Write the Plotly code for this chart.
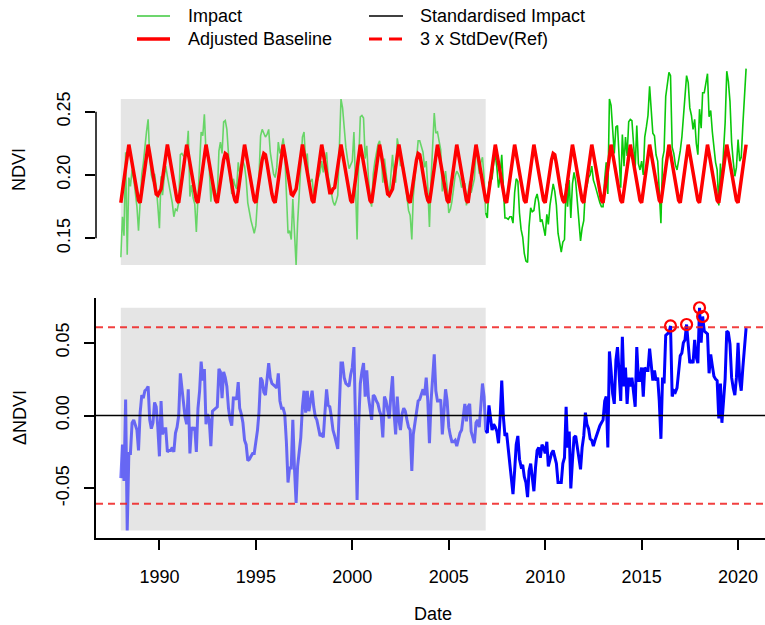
import pandas as pd
import numpy as np
import plotly.graph_objects as go

# ---------------- data ----------------
first_month = "1988-01-01"
last_month = "2020-06-01"
ref_period_end = "2007-01-01"          # start of monitoring period

# Adjusted (harmonic) baseline NDVI, one value per month, Jan..Dec
baseline_ndvi = [
    0.178, 0.187, 0.197, 0.207, 0.216, 0.224, 0.217, 0.209, 0.200, 0.192, 0.185, 0.180,  # 1988
    0.178, 0.187, 0.197, 0.207, 0.216, 0.224, 0.217, 0.209, 0.200, 0.192, 0.185, 0.184,  # 1989
    0.186, 0.189, 0.197, 0.207, 0.216, 0.224, 0.217, 0.209, 0.200, 0.192, 0.185, 0.180,  # 1990
    0.178, 0.187, 0.197, 0.207, 0.216, 0.224, 0.217, 0.209, 0.200, 0.192, 0.185, 0.180,  # 1991
    0.178, 0.187, 0.197, 0.207, 0.216, 0.224, 0.217, 0.209, 0.200, 0.192, 0.185, 0.180,  # 1992
    0.178, 0.187, 0.196, 0.205, 0.212, 0.217, 0.216, 0.209, 0.200, 0.192, 0.185, 0.180,  # 1993
    0.178, 0.187, 0.197, 0.207, 0.216, 0.224, 0.217, 0.209, 0.200, 0.192, 0.185, 0.180,  # 1994
    0.178, 0.187, 0.196, 0.205, 0.212, 0.217, 0.216, 0.209, 0.200, 0.192, 0.185, 0.180,  # 1995
    0.178, 0.187, 0.197, 0.207, 0.216, 0.224, 0.217, 0.209, 0.200, 0.192, 0.185, 0.184,  # 1996
    0.186, 0.189, 0.197, 0.207, 0.216, 0.224, 0.217, 0.209, 0.200, 0.192, 0.185, 0.180,  # 1997
    0.178, 0.187, 0.197, 0.207, 0.216, 0.224, 0.217, 0.209, 0.200, 0.192, 0.186, 0.186,  # 1998
    0.189, 0.190, 0.197, 0.207, 0.216, 0.224, 0.217, 0.209, 0.200, 0.192, 0.185, 0.180,  # 1999
    0.178, 0.187, 0.197, 0.207, 0.216, 0.224, 0.217, 0.209, 0.200, 0.192, 0.185, 0.180,  # 2000
    0.178, 0.187, 0.197, 0.207, 0.216, 0.224, 0.217, 0.209, 0.200, 0.192, 0.185, 0.184,  # 2001
    0.186, 0.189, 0.197, 0.207, 0.216, 0.224, 0.217, 0.209, 0.200, 0.192, 0.185, 0.180,  # 2002
    0.178, 0.187, 0.196, 0.205, 0.212, 0.217, 0.216, 0.209, 0.200, 0.192, 0.185, 0.180,  # 2003
    0.178, 0.187, 0.197, 0.207, 0.216, 0.224, 0.217, 0.209, 0.200, 0.192, 0.185, 0.180,  # 2004
    0.178, 0.187, 0.197, 0.207, 0.216, 0.224, 0.217, 0.209, 0.200, 0.192, 0.185, 0.180,  # 2005
    0.178, 0.187, 0.197, 0.207, 0.216, 0.224, 0.217, 0.209, 0.200, 0.192, 0.185, 0.180,  # 2006
    0.178, 0.187, 0.197, 0.207, 0.216, 0.224, 0.217, 0.209, 0.200, 0.192, 0.185, 0.180,  # 2007
    0.178, 0.187, 0.197, 0.207, 0.216, 0.224, 0.217, 0.209, 0.200, 0.192, 0.185, 0.180,  # 2008
    0.178, 0.187, 0.197, 0.207, 0.216, 0.224, 0.217, 0.209, 0.200, 0.192, 0.185, 0.180,  # 2009
    0.178, 0.187, 0.196, 0.205, 0.212, 0.217, 0.216, 0.209, 0.200, 0.192, 0.185, 0.180,  # 2010
    0.178, 0.187, 0.197, 0.207, 0.216, 0.224, 0.217, 0.209, 0.200, 0.192, 0.185, 0.180,  # 2011
    0.178, 0.187, 0.197, 0.207, 0.216, 0.224, 0.217, 0.209, 0.200, 0.192, 0.185, 0.180,  # 2012
    0.178, 0.187, 0.197, 0.207, 0.216, 0.224, 0.217, 0.209, 0.200, 0.192, 0.185, 0.180,  # 2013
    0.178, 0.187, 0.197, 0.207, 0.216, 0.224, 0.217, 0.209, 0.200, 0.192, 0.185, 0.180,  # 2014
    0.178, 0.187, 0.197, 0.207, 0.216, 0.224, 0.217, 0.209, 0.200, 0.192, 0.185, 0.180,  # 2015
    0.178, 0.187, 0.197, 0.207, 0.216, 0.224, 0.217, 0.209, 0.200, 0.192, 0.185, 0.180,  # 2016
    0.178, 0.187, 0.197, 0.207, 0.216, 0.224, 0.217, 0.209, 0.200, 0.192, 0.185, 0.180,  # 2017
    0.178, 0.187, 0.197, 0.207, 0.216, 0.224, 0.217, 0.209, 0.200, 0.192, 0.185, 0.180,  # 2018
    0.178, 0.187, 0.197, 0.207, 0.216, 0.224, 0.217, 0.209, 0.200, 0.192, 0.185, 0.180,  # 2019
    0.178, 0.187, 0.197, 0.207, 0.216, 0.224,                                            # 2020
]

# Standardised impact (Impact - Adjusted Baseline), one value per month
delta_ndvi = [
    -0.043, -0.020, -0.045, 0.011, -0.079, -0.026, -0.026, -0.005, -0.003, -0.007, -0.010, -0.024,  # 1988
    0.002, 0.014, 0.012, 0.017, 0.018, 0.020, -0.003, -0.009, -0.005, 0.009, 0.006, -0.008,  # 1989
    -0.028, 0.010, -0.013, -0.009, -0.009, -0.025, -0.024, -0.024, -0.022, -0.025, -0.012, -0.008,  # 1990
    0.000, 0.029, 0.020, 0.008, -0.001, -0.006, 0.018, -0.026, -0.008, -0.010, -0.008, -0.025,  # 1991
    0.005, 0.017, 0.037, 0.024, 0.032, -0.006, 0.001, -0.003, -0.021, 0.003, 0.004, 0.005,  # 1992
    0.006, 0.032, 0.030, 0.012, 0.030, 0.026, 0.020, 0.005, -0.003, -0.007, 0.012, 0.012,  # 1993
    0.011, 0.023, 0.005, 0.001, -0.005, -0.017, -0.020, -0.031, -0.030, -0.028, -0.026, -0.026,  # 1994
    -0.018, -0.010, 0.002, 0.026, 0.024, 0.016, 0.014, 0.023, 0.036, 0.026, 0.022, 0.021,  # 1995
    0.020, 0.019, 0.029, 0.010, 0.005, 0.005, 0.001, -0.018, -0.046, -0.036, -0.036, -0.003,  # 1996
    -0.036, -0.060, -0.035, -0.025, -0.015, 0.006, 0.017, 0.002, 0.017, 0.003, 0.010, 0.017,  # 1997
    0.006, -0.001, -0.003, -0.008, -0.014, -0.013, -0.015, 0.002, 0.018, 0.007, 0.006, -0.001,  # 1998
    -0.010, -0.014, -0.018, -0.023, 0.006, 0.036, 0.036, 0.026, 0.022, 0.021, 0.020, 0.028,  # 1999
    0.033, 0.047, 0.001, -0.058, -0.006, 0.022, 0.030, 0.036, 0.013, 0.031, 0.013, 0.003,  # 2000
    -0.003, 0.014, 0.013, 0.010, 0.008, 0.003, 0.000, -0.015, 0.013, 0.010, 0.004, -0.002,  # 2001
    0.014, 0.027, 0.002, -0.013, 0.013, -0.003, -0.010, 0.001, 0.005, 0.003, -0.003, -0.008,  # 2002
    -0.010, -0.038, -0.013, -0.005, 0.003, 0.010, 0.011, 0.014, 0.018, 0.014, 0.026, 0.010,  # 2003
    -0.019, 0.010, 0.030, 0.042, 0.017, 0.010, 0.010, 0.011, -0.013, 0.003, 0.018, 0.010,  # 2004
    -0.008, -0.014, -0.018, -0.018, -0.017, -0.021, -0.016, -0.012, -0.010, 0.001, 0.008, -0.004,  # 2005
    0.006, 0.008, -0.011, -0.015, -0.019, -0.005, -0.003, -0.008, 0.010, 0.022, 0.013, -0.010,  # 2006
    -0.012, 0.007, -0.001, -0.010, -0.006, -0.008, -0.011, -0.019, -0.001, 0.024, -0.001, -0.014,  # 2007
    -0.012, -0.022, -0.030, -0.040, -0.054, -0.038, -0.020, -0.014, -0.030, -0.035, -0.034, -0.042,  # 2008
    -0.046, -0.056, -0.038, -0.033, -0.045, -0.052, -0.036, -0.024, -0.022, -0.029, -0.020, -0.022,  # 2009
    -0.026, -0.018, -0.035, -0.029, -0.026, -0.024, -0.029, -0.033, -0.046, -0.046, -0.046, -0.033,  # 2010
    -0.029, 0.006, -0.022, -0.011, -0.050, -0.031, -0.015, -0.014, -0.022, -0.031, -0.037, -0.022,  # 2011
    -0.014, 0.002, -0.006, -0.009, -0.016, -0.017, -0.021, -0.017, -0.013, -0.011, -0.007, -0.005,  # 2012
    -0.003, 0.010, 0.013, -0.022, 0.044, 0.031, 0.015, 0.008, 0.038, 0.047, 0.029, 0.010,  # 2013
    0.054, 0.020, 0.033, 0.008, 0.026, 0.020, 0.026, 0.017, 0.006, 0.047, 0.024, 0.024,  # 2014
    0.033, 0.013, 0.033, 0.031, 0.031, 0.046, 0.033, 0.024, 0.031, 0.024, 0.026, 0.010,  # 2015
    -0.016, 0.026, 0.022, 0.055, 0.056, 0.057, 0.0615, 0.013, 0.017, 0.016, 0.019, 0.030,  # 2016
    0.041, 0.043, 0.050, 0.052, 0.0625, 0.049, 0.036, 0.038, 0.036, 0.052, 0.040, 0.036,  # 2017
    0.074, 0.050, 0.068, 0.058, 0.057, 0.056, 0.029, 0.042, 0.034, 0.027, 0.025, 0.024,  # 2018
    -0.002, 0.022, -0.005, 0.012, 0.025, 0.058, 0.057, 0.049, 0.026, 0.019, 0.014, 0.026,  # 2019
    0.050, 0.024, 0.017, 0.033, 0.049, 0.060,  # 2020
]

threshold = 0.0606                     # 3 x StdDev of the reference period
year_ticks = [1990, 1995, 2000, 2005, 2010, 2015, 2020]
ndvi_ticks = [0.15, 0.20, 0.25]
delta_ticks = [-0.05, 0.00, 0.05]

# ---------------- derived ----------------
dates = pd.date_range(first_month, last_month, freq="MS")
baseline = np.array(baseline_ndvi)
delta = np.array(delta_ndvi)
impact = baseline + delta              # observed NDVI = baseline + standardised impact
is_ref = dates < pd.Timestamp(ref_period_end)
n_ref = int(is_ref.sum())
ref_last = dates[n_ref - 1]

W, H = 765, 625
FONT = "Liberation Sans, Arial, sans-serif"


def px(x):
    """window pixel x -> paper coordinate"""
    return x / W


def py(y):
    """window pixel y -> paper coordinate"""
    return 1 - y / H


X_LO, X_HI = "1986-09-18", "2021-05-25"

fig = go.Figure()

# ----- top panel -----
fig.add_trace(go.Scatter(x=dates[:n_ref], y=impact[:n_ref], mode="lines",
                         line=dict(color="rgba(0,200,0,0.55)", width=1.6),
                         xaxis="x", yaxis="y", showlegend=False, hoverinfo="skip"))
fig.add_trace(go.Scatter(x=dates[n_ref - 1:], y=impact[n_ref - 1:], mode="lines",
                         line=dict(color="rgb(10,200,10)", width=1.6),
                         xaxis="x", yaxis="y", showlegend=False, hoverinfo="skip"))
fig.add_trace(go.Scatter(x=dates, y=baseline, mode="lines",
                         line=dict(color="#FF0000", width=3.5),
                         xaxis="x", yaxis="y", showlegend=False, hoverinfo="skip"))

# ----- bottom panel -----
fig.add_trace(go.Scatter(x=dates[:n_ref], y=delta[:n_ref], mode="lines",
                         line=dict(color="rgba(0,0,255,0.55)", width=3),
                         xaxis="x2", yaxis="y2", showlegend=False, hoverinfo="skip"))
fig.add_trace(go.Scatter(x=dates[n_ref - 1:], y=delta[n_ref - 1:], mode="lines",
                         line=dict(color="#0000FF", width=3),
                         xaxis="x2", yaxis="y2", showlegend=False, hoverinfo="skip"))
exceed = delta > threshold
fig.add_trace(go.Scatter(x=dates[exceed], y=delta[exceed], mode="markers",
                         marker=dict(symbol="circle-open", size=11, color="#FF0000",
                                     line=dict(width=2.2, color="#FF0000")),
                         xaxis="x2", yaxis="y2", showlegend=False, hoverinfo="skip"))

shapes = []
# reference period boxes
shapes.append(dict(type="rect", xref="x", yref="y", x0=dates[0], x1=ref_last,
                   y0=impact[:n_ref].min(), y1=impact[:n_ref].max(),
                   fillcolor="#E5E5E5", line=dict(width=0), layer="below"))
shapes.append(dict(type="rect", xref="x2", yref="y2", x0=dates[0], x1=ref_last,
                   y0=delta.min(), y1=delta.max(),
                   fillcolor="#E5E5E5", line=dict(width=0), layer="below"))
# zero line and thresholds
shapes.append(dict(type="line", xref="paper", yref="y2", x0=px(96), x1=1, y0=0, y1=0,
                   line=dict(color="black", width=1.5), layer="above"))
for t in (threshold, -threshold):
    shapes.append(dict(type="line", xref="paper", yref="y2", x0=px(96), x1=1, y0=t, y1=t,
                       line=dict(color="rgba(240,30,30,0.85)", width=2, dash="7px,5px"),
                       layer="above"))
# top panel y-axis line (only between outer ticks)
shapes.append(dict(type="line", xref="paper", yref="y", x0=px(96), x1=px(96),
                   y0=ndvi_ticks[0], y1=ndvi_ticks[-1], line=dict(color="black", width=1.5)))

# legend symbols
shapes.append(dict(type="line", xref="paper", yref="paper", x0=px(137), x1=px(170),
                   y0=py(16), y1=py(16), line=dict(color="rgb(60,200,60)", width=1.5)))
shapes.append(dict(type="line", xref="paper", yref="paper", x0=px(137), x1=px(170),
                   y0=py(39), y1=py(39), line=dict(color="#FF0000", width=3.5)))
shapes.append(dict(type="line", xref="paper", yref="paper", x0=px(369), x1=px(403),
                   y0=py(16), y1=py(16), line=dict(color="black", width=1.5)))
shapes.append(dict(type="line", xref="paper", yref="paper", x0=px(369), x1=px(402),
                   y0=py(39), y1=py(39), line=dict(color="#FF0000", width=3, dash="13px,7px")))

ann = []
for txt, x, y in [("Impact", 186, 16), ("Adjusted Baseline", 186, 39),
                  ("Standardised Impact", 418, 16), ("3 x StdDev(Ref)", 418, 39)]:
    ann.append(dict(text=txt, xref="paper", yref="paper", x=px(x), y=py(y),
                    xanchor="left", yanchor="middle", showarrow=False,
                    font=dict(size=18, color="black", family=FONT)))
ann.append(dict(text="Date", xref="paper", yref="paper", x=px(433), y=py(614),
                xanchor="center", yanchor="middle", showarrow=False,
                font=dict(size=18, color="black", family=FONT)))
ann.append(dict(text="NDVI", xref="paper", yref="paper", x=px(19), y=py(170),
                xanchor="center", yanchor="middle", showarrow=False, textangle=-90,
                font=dict(size=18, color="black", family=FONT)))
ann.append(dict(text="ΔNDVI", xref="paper", yref="paper", x=px(20), y=py(418),
                xanchor="center", yanchor="middle", showarrow=False, textangle=-90,
                font=dict(size=18, color="black", family=FONT)))

tickfont = dict(size=18, color="black", family=FONT)
fig.update_layout(
    width=W, height=H, margin=dict(l=0, r=0, t=0, b=0),
    paper_bgcolor="white", plot_bgcolor="white",
    shapes=shapes, annotations=ann,
    xaxis=dict(domain=[px(96), 1], anchor="y", range=[X_LO, X_HI], type="date",
               showticklabels=False, ticks="", showline=False, showgrid=False, zeroline=False),
    yaxis=dict(domain=[py(275), py(60)], anchor="x", range=[0.12101, 0.29084],
               tickvals=ndvi_ticks, ticktext=[f"{v:.2f}" for v in ndvi_ticks],
               tickangle=-90, ticks="outside", ticklen=10, tickwidth=1.5, tickcolor="black",
               ticklabelstandoff=8, tickfont=tickfont,
               showline=False, showgrid=False, zeroline=False),
    xaxis2=dict(domain=[px(96), 1], anchor="y2", range=[X_LO, X_HI], type="date",
                tickvals=[f"{y}-01-01" for y in year_ticks], ticktext=[str(y) for y in year_ticks],
                ticks="outside", ticklen=10, tickwidth=1.5, tickcolor="black",
                ticklabelstandoff=12, tickfont=tickfont,
                showline=True, linecolor="black", linewidth=1.5, showgrid=False, zeroline=False),
    yaxis2=dict(domain=[py(538), py(298)], anchor="x2", range=[-0.0841, 0.0807],
                tickvals=delta_ticks, ticktext=[f"{v:.2f}".replace("−", "-") for v in delta_ticks],
                tickangle=-90, ticks="outside", ticklen=10, tickwidth=1.5, tickcolor="black",
                ticklabelstandoff=8, tickfont=tickfont,
                showline=True, linecolor="black", linewidth=1.5, showgrid=False, zeroline=False),
)

# remove the default 8px page margin so the figure fills the 765x625 window exactly
fig.write_html("out.html", config={"displayModeBar": False},
               post_script="document.body.style.margin='0px';")
